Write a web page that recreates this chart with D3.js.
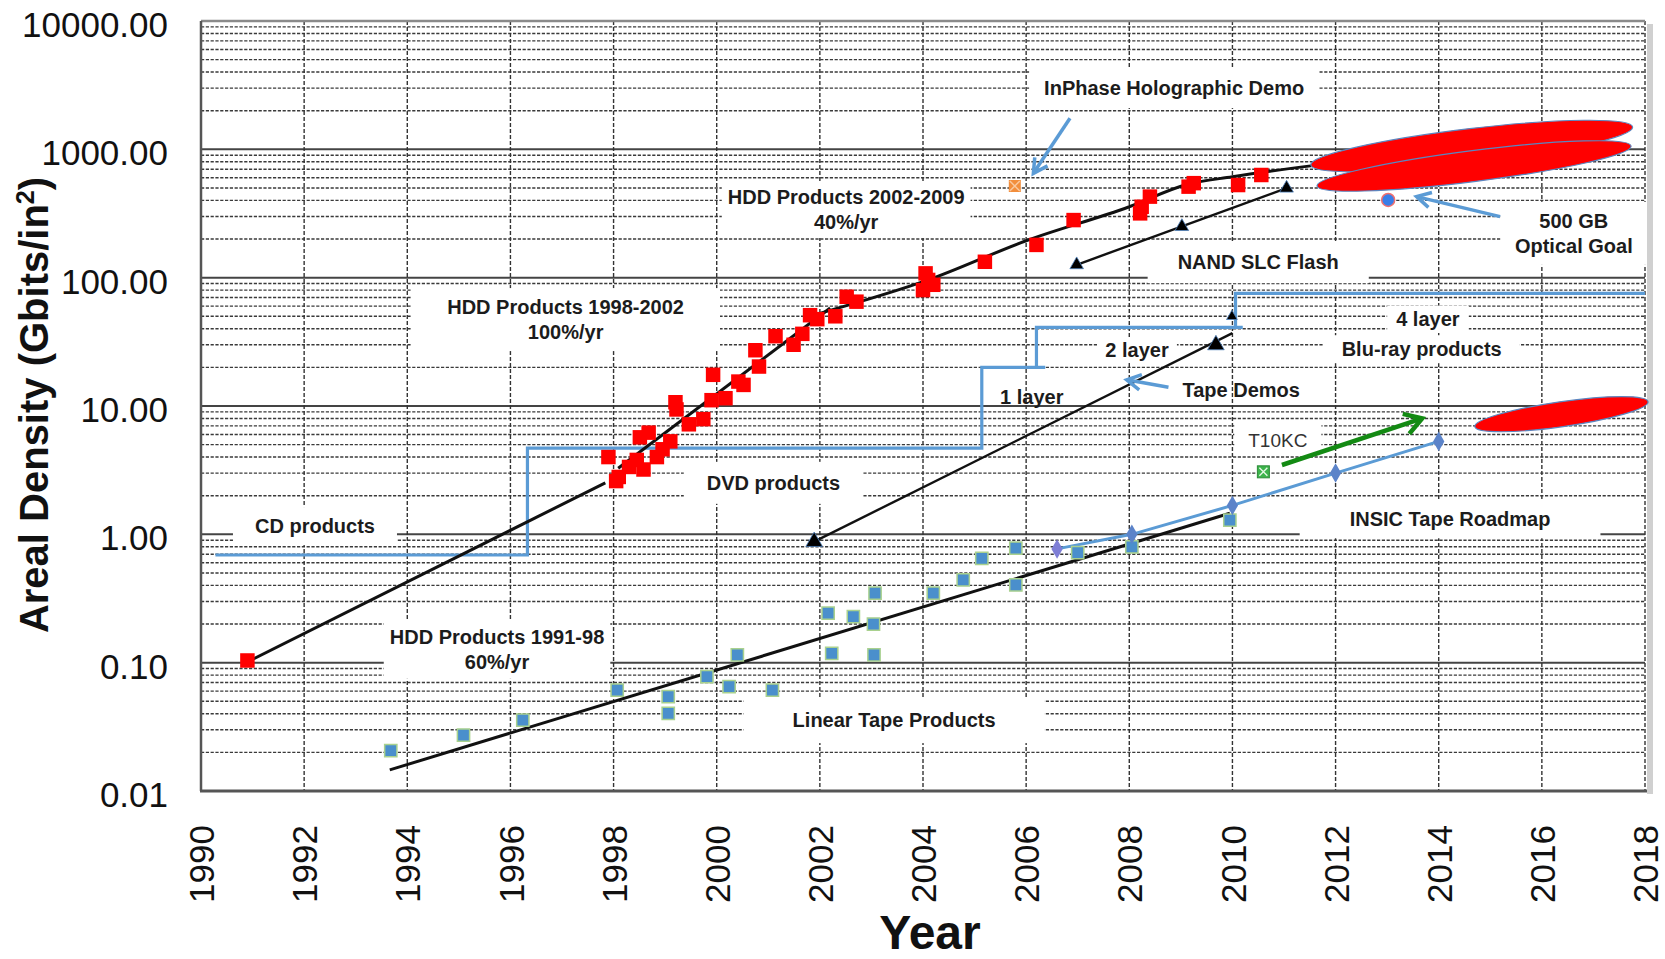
<!DOCTYPE html>
<html>
<head>
<meta charset="utf-8">
<script src="https://cdn.jsdelivr.net/npm/d3@7"></script>
<style>
  html, body { margin: 0; padding: 0; background: #fff; }
  svg { display: block; font-family: "Liberation Sans", Arial, sans-serif; }
</style>
</head>
<body>
<svg id="chart" width="1665" height="959"></svg>
<script>
// ---- axis ticks ----
const yearTicks = d3.range(1990, 2019, 2);
const densityTicks = [0.01, 0.1, 1, 10, 100, 1000, 10000];

// ---- HDD products (year, Gbit/in^2) ----
const hddProducts = [
  [1990.9, 0.104],
  [1997.9, 4.0], [1998.05, 2.6], [1998.1, 2.8], [1998.3, 3.35], [1998.45, 3.8],
  [1998.58, 3.2], [1998.51, 5.7], [1998.68, 6.2], [1998.84, 4.0], [1998.95, 4.6],
  [1999.1, 5.3], [1999.2, 10.7], [1999.22, 9.4], [1999.46, 7.2], [1999.74, 7.9],
  [1999.9, 11.1], [1999.93, 17.5], [2000.17, 11.5], [2000.42, 15.5], [2000.52, 14.6],
  [2000.75, 27.2], [2000.82, 20.3], [2001.14, 35.0], [2001.49, 30.0], [2001.66, 36.5],
  [2001.81, 51], [2001.95, 47.5], [2002.3, 50], [2002.52, 71], [2002.71, 65],
  [2004.0, 80], [2004.05, 108], [2004.1, 96], [2004.2, 88],
  [2005.2, 133], [2006.2, 180], [2006.92, 281],
  [2008.21, 317], [2008.24, 357], [2008.4, 428],
  [2009.15, 512], [2009.25, 545], [2010.11, 527], [2010.56, 631]
];
const hddTrend9198 = [[1990.89, 0.101], [1997.84, 2.52]];
const hddTrend9802 = [[1998.09, 3.27], [2002.2, 58]];
const hddTrend0209 = [[2002.0, 52.7], [2004.1, 96], [2006.0, 194], [2008.0, 357],
                      [2009.1, 530], [2010.0, 612], [2011.6, 750]];

// ---- linear tape products ----
const tapeProducts = [
  [1993.68, 0.0206], [1995.09, 0.0273], [1996.24, 0.0357], [1998.07, 0.0612],
  [1999.06, 0.0543], [1999.06, 0.0403], [1999.81, 0.0778], [2000.24, 0.065],
  [2000.4, 0.115], [2001.08, 0.061], [2002.16, 0.243], [2002.23, 0.118],
  [2002.65, 0.228], [2003.04, 0.2], [2003.05, 0.115], [2003.07, 0.348],
  [2004.2, 0.348], [2004.78, 0.441], [2005.14, 0.65], [2005.8, 0.78],
  [2005.8, 0.403], [2007.0, 0.72], [2008.05, 0.8], [2009.95, 1.29]
];
const tapeTrend = [[1993.66, 0.0146], [2009.95, 1.46]];
const insicRoadmap = [[2006.6, 0.77], [2008.05, 1.0], [2010.0, 1.68], [2012.0, 3.0], [2014.0, 5.3]];
const t10kc = [[2010.6, 3.07]];

// ---- tape demos and NAND flash ----
const tapeDemos = [[2001.89, 0.877], [2009.68, 29.9], [2009.99, 49.9]];
const tapeDemoTrend = [[2001.89, 0.877], [2010.0, 37]];
const nandFlash = [[2006.98, 126], [2009.02, 250], [2011.05, 498]];

// ---- optical: CD / DVD / Blu-ray product steps ----
const opticalSteps1 = [[1990.28, 0.69], [1996.33, 0.69], [1996.33, 4.7], [2005.14, 4.7],
                       [2005.14, 20], [2006.37, 20]];
const opticalSteps2 = [[2006.2, 20], [2006.2, 41], [2010.2, 41]];
const opticalSteps3 = [[2010.06, 41], [2010.06, 75.5], [2018.0, 75.5]];
const inphaseDemo = [[2005.78, 518]];
const opticalGoal = [[2013.02, 403]];

// ---- projected regions (tip to tip) ----
const goalRegions = [
  { from: [2011.52, 755], to: [2017.76, 1493], halfWidth: 17.5 },
  { from: [2011.64, 518], to: [2017.73, 1062], halfWidth: 15.5 },
  { from: [2014.7, 6.9], to: [2018.06, 10.8], halfWidth: 12.5 }
];

// ---- annotation arrows ----
const blueArrows = [
  [[2006.85, 1746], [2006.14, 650]],
  [[2015.19, 299], [2013.57, 428]],
  [[2008.76, 14.0], [2007.95, 16.0]]
];
const greenArrow = [[2010.96, 3.47], [2013.68, 8.0]];

// ---- annotation labels ----
const labels = [
  { lines: ["InPhase Holographic Demo"], at: [2008.87, 3000], pad: [15, 9] },
  { lines: ["HDD Products 2002-2009", "40%/yr"], at: [2002.51, 425], pad: [6, 5] },
  { lines: ["HDD Products 1998-2002", "100%/yr"], at: [1997.07, 59], pad: [36, 8] },
  { lines: ["NAND SLC Flash"], at: [2010.5, 132], pad: [30, 10] },
  { lines: ["500 GB", "Optical Goal"], at: [2016.62, 277], pad: [14, 8] },
  { lines: ["4 layer"], at: [2013.79, 48], pad: [9, 2] },
  { lines: ["Blu-ray products"], at: [2013.67, 27.7], pad: [18, 3] },
  { lines: ["2 layer"], at: [2008.15, 27.3], pad: [8, 2] },
  { lines: ["Tape Demos"], at: [2010.17, 13.3], pad: null },
  { lines: ["1 layer"], at: [2006.11, 11.7], pad: null },
  { lines: ["DVD products"], at: [2001.1, 2.52], pad: [23, 10] },
  { lines: ["CD products"], at: [1992.21, 1.16], pad: [22, 8] },
  { lines: ["T10KC"], at: [2010.88, 5.43], pad: [14, 5], plain: true },
  { lines: ["INSIC Tape Roadmap"], at: [2014.22, 1.31], pad: [50, 8] },
  { lines: ["HDD Products 1991-98", "60%/yr"], at: [1995.74, 0.159], pad: [6, 6] },
  { lines: ["Linear Tape Products"], at: [2003.44, 0.0357], pad: [49, 12] }
];

// ================= drawing =================
(function () {
const svg = d3.select("#chart");
const plotL = 201, plotR = 1645, plotT = 21, plotB = 791;

const x = d3.scaleLinear().domain([1990, 2018]).range([plotL, plotR]);
const y = d3.scaleLog().domain([0.01, 10000]).range([plotB, plotT]);
const px = d => [x(d[0]), y(d[1])];

const gGrid = svg.append("g");
const gBox = svg.append("g");
const gFrame = svg.append("g");
const gLines = svg.append("g");
const gMarks = svg.append("g");
const gShapes = svg.append("g");
const gText = svg.append("g");

// frame shadow
gGrid.append("rect").attr("x", plotR + 2).attr("y", plotT + 3)
  .attr("width", 6).attr("height", plotB - plotT).attr("fill", "#d0d0d0");

// horizontal gridlines: solid decades, dashed minors
y.ticks().forEach(v => {
  const major = Math.abs(Math.log10(v) - Math.round(Math.log10(v))) < 1e-6;
  gGrid.append("line")
    .attr("x1", plotL).attr("x2", plotR)
    .attr("y1", y(v)).attr("y2", y(v))
    .attr("stroke", major ? "#444" : "#3a3a3a")
    .attr("stroke-width", major ? 2 : 1.4)
    .attr("stroke-dasharray", major ? null : "3.2,1.6");
});
// vertical gridlines
yearTicks.forEach(t => {
  if (t === 1990) return;
  gGrid.append("line")
    .attr("x1", x(t)).attr("x2", x(t))
    .attr("y1", plotT).attr("y2", plotB)
    .attr("stroke", "#333").attr("stroke-width", 1.4)
    .attr("stroke-dasharray", "4,2");
});

// frame
gFrame.append("line").attr("x1", plotL).attr("x2", plotR).attr("y1", plotT).attr("y2", plotT)
  .attr("stroke", "#8a8a8a").attr("stroke-width", 2.5);
gFrame.append("line").attr("x1", plotL).attr("x2", plotL).attr("y1", plotT).attr("y2", plotB)
  .attr("stroke", "#555").attr("stroke-width", 2.5);
gFrame.append("line").attr("x1", plotL - 1).attr("x2", plotR + 2).attr("y1", plotB).attr("y2", plotB)
  .attr("stroke", "#555").attr("stroke-width", 3);

// axes
const yAxis = d3.axisLeft(y).tickValues(densityTicks).tickFormat(d3.format(".2f"))
  .tickSize(0).tickPadding(33);
const gy = svg.append("g").attr("transform", `translate(${plotL},0)`).call(yAxis);
gy.select(".domain").remove();
gy.selectAll("text").attr("font-size", 35).attr("fill", "#111")
  .attr("font-family", "Liberation Sans, Arial, sans-serif").attr("dy", "0.44em");

const xAxis = d3.axisBottom(x).tickValues(yearTicks).tickFormat(d3.format("d")).tickSize(0);
const gx = svg.append("g").attr("transform", `translate(0,${plotB})`).call(xAxis);
gx.select(".domain").remove();
gx.selectAll("text")
  .attr("font-size", 35).attr("fill", "#111")
  .attr("font-family", "Liberation Sans, Arial, sans-serif")
  .attr("transform", "rotate(-90)")
  .attr("x", -34).attr("y", 0).attr("dy", "0.36em")
  .attr("text-anchor", "end");

// axis titles
svg.append("text")
  .attr("transform", `translate(${plotL + 729},949)`)
  .attr("text-anchor", "middle").attr("font-weight", "bold").attr("font-size", 48)
  .attr("fill", "#111").text("Year");
const yt = svg.append("text")
  .attr("transform", "translate(48,405) rotate(-90)")
  .attr("text-anchor", "middle").attr("font-weight", "bold").attr("font-size", 40)
  .attr("fill", "#111");
yt.append("tspan").text("Areal Density (Gbits/in");
yt.append("tspan").attr("baseline-shift", "super").attr("font-size", 25).text("2");
yt.append("tspan").text(")");

// line generators
const line = d3.line().x(d => x(d[0])).y(d => y(d[1]));
const smooth = d3.line().x(d => x(d[0])).y(d => y(d[1])).curve(d3.curveMonotoneX);

// optical product steps
[opticalSteps1, opticalSteps2, opticalSteps3].forEach(s => {
  gLines.append("path").attr("d", line(s)).attr("fill", "none")
    .attr("stroke", "#5b9bd5").attr("stroke-width", 3.2);
});

// INSIC roadmap
gLines.append("path").attr("d", line(insicRoadmap)).attr("fill", "none")
  .attr("stroke", "#5b9bd5").attr("stroke-width", 3);

// trend lines
[hddTrend9198, hddTrend9802, tapeTrend].forEach(s => {
  gLines.append("path").attr("d", line(s)).attr("fill", "none")
    .attr("stroke", "#111").attr("stroke-width", 3);
});
gLines.append("path").attr("d", smooth(hddTrend0209)).attr("fill", "none")
  .attr("stroke", "#111").attr("stroke-width", 3);
gLines.append("path").attr("d", line(tapeDemoTrend)).attr("fill", "none")
  .attr("stroke", "#111").attr("stroke-width", 2.4);
gLines.append("path").attr("d", line([nandFlash[0], nandFlash[2]])).attr("fill", "none")
  .attr("stroke", "#111").attr("stroke-width", 2.4);

// arrows
function arrowPath(a, b, len, ang) {
  const p0 = px(a), p1 = px(b);
  const t = Math.atan2(p1[1] - p0[1], p1[0] - p0[0]);
  const l = [p1[0] - len * Math.cos(t - ang), p1[1] - len * Math.sin(t - ang)];
  const r = [p1[0] - len * Math.cos(t + ang), p1[1] - len * Math.sin(t + ang)];
  return { shaft: `M${p0}L${p1}`, head: `M${l}L${p1}L${r}` };
}
blueArrows.forEach(a => {
  const p = arrowPath(a[0], a[1], 16, 0.5);
  gLines.append("path").attr("d", p.shaft).attr("stroke", "#5b9bd5").attr("stroke-width", 3.5).attr("fill", "none");
  gLines.append("path").attr("d", p.head).attr("stroke", "#5b9bd5").attr("stroke-width", 3.5)
    .attr("fill", "none").attr("stroke-linejoin", "miter");
});
{
  const p = arrowPath(greenArrow[0], greenArrow[1], 20, 0.55);
  gLines.append("path").attr("d", p.shaft).attr("stroke", "#138a13").attr("stroke-width", 4.5).attr("fill", "none");
  gLines.append("path").attr("d", p.head).attr("stroke", "#138a13").attr("stroke-width", 4.5)
    .attr("fill", "none").attr("stroke-linejoin", "miter");
}

// markers
const sym = (type, size) => d3.symbol().type(type).size(size)();
gMarks.selectAll(".hdd").data(hddProducts).join("path")
  .attr("transform", d => `translate(${px(d)})`)
  .attr("d", sym(d3.symbolSquare, 210)).attr("fill", "#ff0000");

gMarks.selectAll(".tape").data(tapeProducts).join("path")
  .attr("transform", d => `translate(${px(d)})`)
  .attr("d", sym(d3.symbolSquare, 150)).attr("fill", "#4a8fcc")
  .attr("stroke", "#a9d18e").attr("stroke-width", 1.5);

gMarks.selectAll(".insic").data(insicRoadmap).join("path")
  .attr("transform", d => `translate(${px(d)})`)
  .attr("d", sym(d3.symbolDiamond, 110))
  .attr("fill", (d, i) => i === 0 ? "#7f7fd6" : "#5b83c9");

gMarks.selectAll(".demo").data(tapeDemos).join("path")
  .attr("transform", d => `translate(${px(d)})`)
  .attr("d", (d, i) => sym(d3.symbolTriangle, i === 2 ? 50 : 120))
  .attr("fill", "#000").attr("stroke", "#4f81bd").attr("stroke-width", 0.8);

gMarks.selectAll(".nand").data(nandFlash).join("path")
  .attr("transform", d => `translate(${px(d)})`)
  .attr("d", sym(d3.symbolTriangle, 80))
  .attr("fill", "#000").attr("stroke", "#4f81bd").attr("stroke-width", 0.8);

// InPhase demo: orange box with cross
inphaseDemo.forEach(d => {
  const [cx, cy] = px(d);
  gMarks.append("rect").attr("x", cx - 6).attr("y", cy - 6).attr("width", 12).attr("height", 12)
    .attr("fill", "#f28e3c");
  gMarks.append("path").attr("d", `M${cx - 5},${cy - 5}L${cx + 5},${cy + 5}M${cx + 5},${cy - 5}L${cx - 5},${cy + 5}`)
    .attr("stroke", "#f9c9a0").attr("stroke-width", 1.5);
});
// T10KC: green box with cross
t10kc.forEach(d => {
  const [cx, cy] = px(d);
  gMarks.append("rect").attr("x", cx - 6).attr("y", cy - 6).attr("width", 12).attr("height", 12)
    .attr("fill", "#3cb44b").attr("stroke", "#2e8b3a").attr("stroke-width", 1);
  gMarks.append("path").attr("d", `M${cx - 4},${cy - 4}L${cx + 4},${cy + 4}M${cx + 4},${cy - 4}L${cx - 4},${cy + 4}`)
    .attr("stroke", "#e8f8e8").attr("stroke-width", 1.3);
});
// optical goal
gMarks.selectAll(".goal").data(opticalGoal).join("circle")
  .attr("cx", d => x(d[0])).attr("cy", d => y(d[1])).attr("r", 6.5)
  .attr("fill", "#3a7ee8").attr("stroke", "#f07070").attr("stroke-width", 1.5);

// projected regions
goalRegions.forEach(r => {
  const a = px(r.from), b = px(r.to);
  const cx = (a[0] + b[0]) / 2, cy = (a[1] + b[1]) / 2;
  const rx = Math.hypot(b[0] - a[0], b[1] - a[1]) / 2;
  const ang = Math.atan2(b[1] - a[1], b[0] - a[0]) * 180 / Math.PI;
  gShapes.append("ellipse")
    .attr("transform", `translate(${cx},${cy}) rotate(${ang})`)
    .attr("rx", rx).attr("ry", r.halfWidth)
    .attr("fill", "#ff0000").attr("stroke", "#5b86c0").attr("stroke-width", 1.2);
});

// labels with white backing boxes
labels.forEach(L => {
  const [lx, ly] = px(L.at);
  const t = gText.append("text")
    .attr("text-anchor", "middle")
    .attr("font-size", L.plain ? 19 : 20)
    .attr("font-weight", L.plain ? "normal" : "bold")
    .attr("fill", L.plain ? "#333" : "#1c1c1c");
  L.lines.forEach((s, i) => {
    t.append("tspan").attr("x", lx).attr("y", ly + i * 25).attr("dy", "0.35em").text(s);
  });
  if (L.pad) {
    const bb = t.node().getBBox();
    gBox.append("rect")
      .attr("x", bb.x - L.pad[0]).attr("y", bb.y - L.pad[1])
      .attr("width", bb.width + 2 * L.pad[0]).attr("height", bb.height + 2 * L.pad[1])
      .attr("fill", "#fff");
  }
});
})();
</script>
</body>
</html>
